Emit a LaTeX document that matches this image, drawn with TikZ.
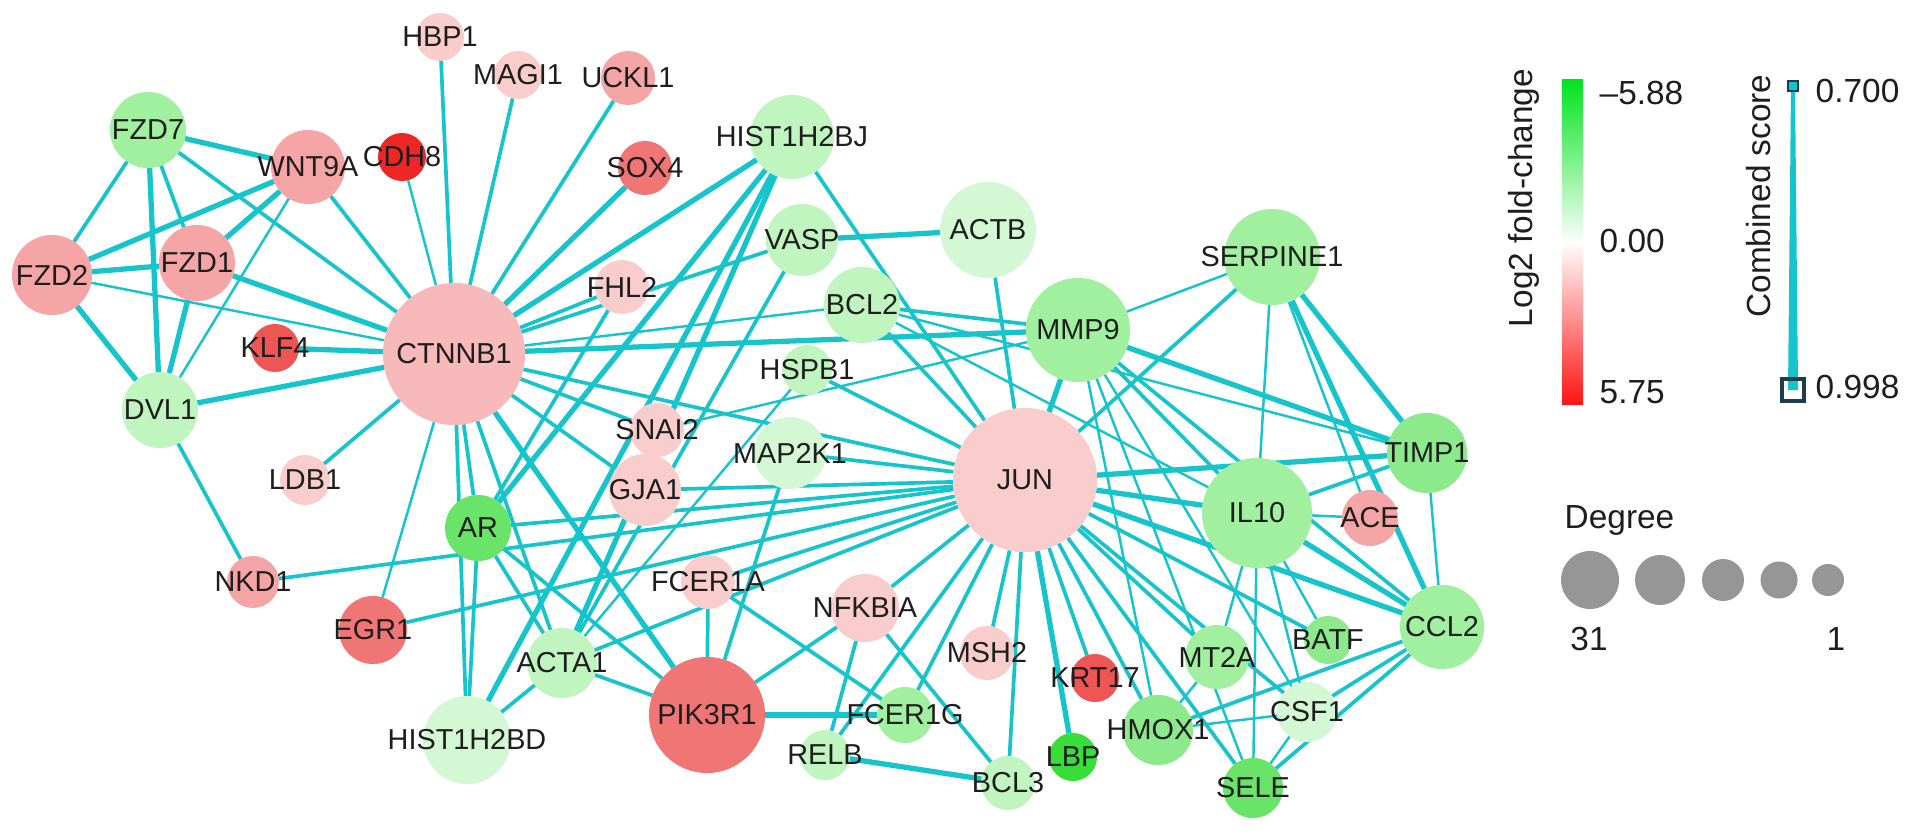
\documentclass[tikz,border=0pt]{standalone}
\usepackage{fontspec}
\setmainfont{Liberation Sans}
\usetikzlibrary{backgrounds}

\definecolor{edgec}{RGB}{22,196,204}
\definecolor{txtc}{RGB}{30,30,30}
\definecolor{sqc}{RGB}{30,60,75}
\definecolor{degc}{RGB}{150,150,150}
\definecolor{gnbar}{RGB}{0,228,30}
\definecolor{rdbar}{RGB}{255,20,20}
\definecolor{pka}{RGB}{250,205,205}
\definecolor{pkc}{RGB}{247,185,185}
\definecolor{pkb}{RGB}{245,165,165}
\definecolor{rda}{RGB}{240,118,118}
\definecolor{rdb}{RGB}{238,85,85}
\definecolor{rdc}{RGB}{237,38,38}
\definecolor{gna}{RGB}{212,248,212}
\definecolor{gnb}{RGB}{192,245,192}
\definecolor{gnc}{RGB}{160,240,160}
\definecolor{gnd}{RGB}{140,234,140}
\definecolor{gne}{RGB}{105,228,105}
\definecolor{gnf}{RGB}{55,222,55}

\tikzset{
  gene/.style={circle, inner sep=0pt, outer sep=0pt, minimum size=#1*0.02cm},
  every label/.style={font=\fontsize{8.2}{9}\selectfont, text=txtc, inner sep=0pt},
  edgehi/.style={draw=edgec, line width=1.5pt},
  edgemid/.style={draw=edgec, line width=1.05pt},
  edgelo/.style={draw=edgec, line width=0.7pt},
  legtext/.style={font=\fontsize{9.5}{11}\selectfont, text=txtc, inner sep=0pt}
}

\begin{document}
\begin{tikzpicture}[x=0.01cm, y=-0.01cm]
\useasboundingbox (0,0) rectangle (1913,837);

% Wnt cluster
\node[gene=24, fill=pka, label=center:HBP1] (HBP1) at (440,37) {};
\node[gene=24, fill=pka, label=center:MAGI1] (MAGI1) at (518,75) {};
\node[gene=27, fill=pkb, label=center:UCKL1] (UCKL1) at (628,78) {};
\node[gene=24, fill=rdc, label=center:CDH8] (CDH8) at (402,157) {};
\node[gene=37, fill=pkb, label=center:WNT9A] (WNT9A) at (308,167) {};
\node[gene=38, fill=gnc, label=center:FZD7] (FZD7) at (148,130) {};
\node[gene=40, fill=pkb, label=center:FZD2] (FZD2) at (52,275) {};
\node[gene=38, fill=pkb, label=center:FZD1] (FZD1) at (197,263) {};
\node[gene=24, fill=rdb, label=center:KLF4] (KLF4) at (275,348) {};
\node[gene=71, fill=pkc, label=center:CTNNB1] (CTNNB1) at (454,354) {};
\node[gene=38, fill=gnb, label=center:DVL1] (DVL1) at (160,410) {};
\node[gene=25, fill=pka, label=center:LDB1] (LDB1) at (305,480) {};
\node[gene=26, fill=pkb, label=center:NKD1] (NKD1) at (253,582) {};
\node[gene=34, fill=rda, label=center:EGR1] (EGR1) at (373,630) {};

% middle
\node[gene=27, fill=rda, label=center:SOX4] (SOX4) at (645,168) {};
\node[gene=42, fill=gnb, label=center:HIST1H2BJ] (HIST1H2BJ) at (792,137) {};
\node[gene=36, fill=gnb, label=center:VASP] (VASP) at (802,240) {};
\node[gene=27, fill=pka, label=center:FHL2] (FHL2) at (622,287) {};
\node[gene=38, fill=gnb, label=center:BCL2] (BCL2) at (862,305) {};
\node[gene=25, fill=gnb, label=center:HSPB1] (HSPB1) at (807,370) {};
\node[gene=48, fill=gna, label=center:ACTB] (ACTB) at (988,230) {};
\node[gene=27, fill=pka, label=center:SNAI2] (SNAI2) at (657,430) {};
\node[gene=36, fill=pka, label=center:GJA1] (GJA1) at (645,490) {};
\node[gene=36, fill=gna, label=center:MAP2K1] (MAP2K1) at (790,453) {};
\node[gene=33, fill=gne, label=center:AR] (AR) at (478,528) {};
\node[gene=44, fill=gna, label=center:HIST1H2BD] (HIST1H2BD) at (467,740) {};
\node[gene=35, fill=gnb, label=center:ACTA1] (ACTA1) at (562,663) {};
\node[gene=27, fill=pka, label=center:FCER1A] (FCER1A) at (708,582) {};
\node[gene=34, fill=pka, label=center:NFKBIA] (NFKBIA) at (865,608) {};
\node[gene=58, fill=rda, label=center:PIK3R1] (PIK3R1) at (707,715) {};
\node[gene=25, fill=gnb, label=center:RELB] (RELB) at (825,755) {};
\node[gene=28, fill=gnc, label=center:FCER1G] (FCER1G) at (905,715) {};

% JUN and right cluster
\node[gene=72, fill=pka, label=center:JUN] (JUN) at (1025,480) {};
\node[gene=52, fill=gnc, label=center:MMP9] (MMP9) at (1078,330) {};
\node[gene=48, fill=gnc, label=center:SERPINE1] (SERPINE1) at (1272,257) {};
\node[gene=55, fill=gnc, label=center:IL10] (IL10) at (1257,513) {};
\node[gene=40, fill=gnd, label=center:TIMP1] (TIMP1) at (1427,453) {};
\node[gene=28, fill=pkb, label=center:ACE] (ACE) at (1370,518) {};
\node[gene=42, fill=gnc, label=center:CCL2] (CCL2) at (1442,627) {};
\node[gene=27, fill=pka, label=center:MSH2] (MSH2) at (987,653) {};
\node[gene=24, fill=rdb, label=center:KRT17] (KRT17) at (1095,678) {};
\node[gene=24, fill=gnf, label=center:LBP] (LBP) at (1073,757) {};
\node[gene=27, fill=gnb, label=center:BCL3] (BCL3) at (1008,783) {};
\node[gene=35, fill=gnd, label=center:HMOX1] (HMOX1) at (1158,730) {};
\node[gene=32, fill=gnc, label=center:MT2A] (MT2A) at (1217,657) {};
\node[gene=30, fill=gne, label=center:SELE] (SELE) at (1253,788) {};
\node[gene=24, fill=gnd, label=center:BATF] (BATF) at (1328,640) {};
\node[gene=30, fill=gna, label=center:CSF1] (CSF1) at (1307,712) {};

\begin{pgfonlayer}{background}
% strong interactions
\foreach \a/\b in {FZD7/WNT9A, FZD7/DVL1, FZD2/WNT9A, FZD2/FZD1, FZD2/DVL1,
  FZD1/WNT9A, FZD1/DVL1, FZD1/CTNNB1, KLF4/CTNNB1, DVL1/CTNNB1, SOX4/CTNNB1,
  HIST1H2BJ/CTNNB1, MMP9/CTNNB1, PIK3R1/CTNNB1, VASP/ACTB, MMP9/TIMP1,
  SERPINE1/TIMP1, SERPINE1/CCL2, JUN/IL10, JUN/TIMP1, LBP/JUN, RELB/BCL3,
  PIK3R1/FCER1G, MMP9/JUN, HIST1H2BJ/ACTA1, HIST1H2BJ/AR, HIST1H2BJ/HIST1H2BD,
  IL10/CCL2, JUN/CCL2}
  \draw[edgehi] (\a) -- (\b);
% medium interactions
\foreach \a/\b in {FZD7/FZD2, FZD7/FZD1, FZD7/CTNNB1, WNT9A/CTNNB1, HBP1/CTNNB1,
  MAGI1/CTNNB1, UCKL1/CTNNB1, VASP/CTNNB1, FHL2/CTNNB1, LDB1/CTNNB1, DVL1/NKD1,
  HIST1H2BD/CTNNB1, AR/CTNNB1, GJA1/CTNNB1, SNAI2/CTNNB1, JUN/CTNNB1, ACTA1/CTNNB1,
  HIST1H2BJ/JUN, VASP/ACTA1, FHL2/AR, BCL2/MMP9, BCL2/JUN, HSPB1/JUN, MAP2K1/JUN,
  MAP2K1/PIK3R1, GJA1/JUN, AR/JUN, NKD1/JUN, EGR1/JUN, AR/HIST1H2BD, AR/PIK3R1,
  AR/ACTA1, ACTA1/HIST1H2BD, ACTA1/JUN, PIK3R1/FCER1A, PIK3R1/NFKBIA, PIK3R1/ACTA1,
  FCER1A/JUN, FCER1A/FCER1G, NFKBIA/JUN, NFKBIA/RELB, NFKBIA/BCL3, RELB/JUN,
  FCER1G/JUN, BCL3/JUN, MSH2/JUN, KRT17/JUN, HMOX1/JUN, MT2A/JUN, SELE/JUN,
  CSF1/JUN, BATF/JUN, ACTB/JUN, SERPINE1/JUN, MMP9/IL10, MMP9/CCL2, IL10/TIMP1,
  HMOX1/CCL2, CSF1/CCL2, SELE/CCL2}
  \draw[edgemid] (\a) -- (\b);
% weak interactions
\foreach \a/\b in {FZD2/CTNNB1, WNT9A/DVL1, CDH8/CTNNB1, BCL2/CTNNB1, EGR1/CTNNB1,
  SERPINE1/MMP9, SERPINE1/IL10, SERPINE1/ACE, BCL2/TIMP1, BCL2/IL10, SNAI2/MMP9,
  HSPB1/ACTA1, IL10/ACE, MMP9/HMOX1, MMP9/CSF1, MMP9/SELE, IL10/SELE, IL10/CSF1,
  IL10/MT2A, IL10/BATF, MT2A/HMOX1, CSF1/SELE, HMOX1/CSF1, TIMP1/CCL2, TIMP1/IL10}
  \draw[edgelo] (\a) -- (\b);
\end{pgfonlayer}

% legend: fold change
\node[legtext, rotate=90] (fclab) at (1524,198) {Log2 fold-change};
\shade[top color=gnbar, bottom color=white] (1562,80) rectangle (1583,244);
\shade[top color=white, bottom color=rdbar] (1562,242) rectangle (1583,404);
\node[legtext, anchor=base west] (fchi) at (1599,105) {\textendash5.88};
\node[legtext, anchor=base west] (fcmid) at (1599,253) {0.00};
\node[legtext, anchor=base west] (fclo) at (1599,403) {5.75};

% legend: combined score
\node[legtext, rotate=90] (cslab) at (1759,196) {Combined score};
\fill[edgec] (1791,86) -- (1795,86) -- (1798,390) -- (1788,390) -- cycle;
\node[draw=sqc, fill=edgec, line width=0.5pt, minimum size=0.1cm, inner sep=0pt] (cstop) at (1793,86) {};
\node[draw=sqc, line width=0.9pt, minimum size=0.22cm, inner sep=0pt] (csbot) at (1793,390) {};
\node[legtext, anchor=base west] (cshi) at (1815,103) {0.700};
\node[legtext, anchor=base west] (cslo) at (1815,398) {0.998};

% legend: degree
\node[legtext, anchor=base west] (deglab) at (1564,528) {Degree};
\node[gene=29, fill=degc] (deg1) at (1590,580) {};
\node[gene=25, fill=degc] (deg2) at (1660,580) {};
\node[gene=21, fill=degc] (deg3) at (1723,580) {};
\node[gene=18.5, fill=degc] (deg4) at (1779,580) {};
\node[gene=16, fill=degc] (deg5) at (1828,580) {};
\node[legtext, anchor=base] (degmax) at (1589,650) {31};
\node[legtext, anchor=base] (degmin) at (1836,650) {1};
\end{tikzpicture}
\end{document}
